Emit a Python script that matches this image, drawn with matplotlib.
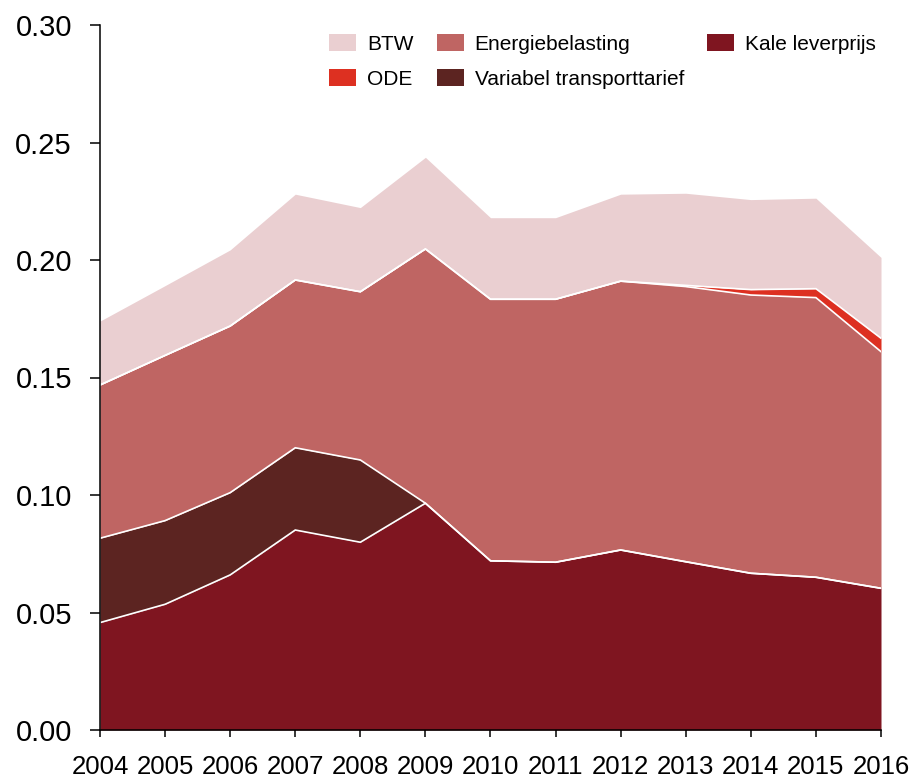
import numpy as np
import matplotlib
matplotlib.use("Agg")
import matplotlib.pyplot as plt
from matplotlib.patches import Patch

years = [2004, 2005, 2006, 2007, 2008, 2009, 2010, 2011, 2012, 2013, 2014, 2015, 2016]
kale_leverprijs = [0.0457, 0.0535, 0.0660, 0.0851, 0.0799, 0.0965, 0.0720, 0.0714, 0.0766, 0.0716, 0.0667, 0.0650, 0.0603]
variabel_transport = [0.0359, 0.0356, 0.0350, 0.0350, 0.0350, 0, 0, 0, 0, 0, 0, 0, 0]
energiebelasting = [0.0652, 0.0703, 0.0709, 0.0714, 0.0716, 0.1082, 0.1113, 0.1119, 0.1144, 0.1171, 0.1184, 0.1190, 0.1007]
ode = [0, 0, 0, 0, 0, 0, 0, 0, 0, 0.0005, 0.0023, 0.0038, 0.0057]
btw = [0.0272, 0.0297, 0.0324, 0.0365, 0.0358, 0.0390, 0.0347, 0.0347, 0.0370, 0.0392, 0.0383, 0.0385, 0.0344]

series = [kale_leverprijs, variabel_transport, energiebelasting, ode, btw]
names = ["Kale leverprijs", "Variabel transporttarief", "Energiebelasting", "ODE", "BTW"]
colors = ["#7f1520", "#5c2421", "#bf6563", "#dd3021", "#eacfd1"]

plt.rcParams['font.family'] = ['Liberation Sans', 'DejaVu Sans']

fig = plt.figure(figsize=(9.12, 7.81), dpi=100)
ax = fig.add_axes([100/912, 51/781, 781/912, 705/781])

x = np.array(years)
cum = np.zeros(len(years))
tops = []
for vals, col in zip(series, colors):
    v = np.array(vals)
    ax.fill_between(x, cum, cum + v, color=col, linewidth=0, zorder=1)
    cum = cum + v
    tops.append(cum.copy())

for t in tops[:-1]:
    ax.plot(x, t, color="white", linewidth=1.2, zorder=2, solid_joinstyle='miter')

ax.set_xlim(2004, 2016)
ax.set_ylim(0, 0.30)
ax.set_xticks(years)
ax.set_xticklabels([str(y) for y in years])
ax.set_yticks([0, 0.05, 0.10, 0.15, 0.20, 0.25, 0.30])
ax.set_yticklabels(["0.00", "0.05", "0.10", "0.15", "0.20", "0.25", "0.30"])

for s in ["top", "right"]:
    ax.spines[s].set_visible(False)
for s in ["left", "bottom"]:
    ax.spines[s].set_linewidth(1.1)
    ax.spines[s].set_color("black")

ax.tick_params(axis='y', direction='out', length=7.2, width=1.1, pad=13, labelsize=21)
ax.tick_params(axis='x', direction='out', length=5, width=1.1, pad=13, labelsize=18.5)

handles = [Patch(facecolor=colors[i], edgecolor='none') for i in [4, 3, 2, 1, 0]]
labels = [names[i] for i in [4, 3, 2, 1, 0]]
leg = fig.legend(handles, labels, ncol=3, loc='upper left',
                 bbox_to_anchor=(329/912, 1 - 34/781), frameon=False,
                 fontsize=15, handlelength=1.3, handleheight=0.9,
                 handletextpad=0.53, columnspacing=1.1, labelspacing=0.72,
                 borderpad=0, borderaxespad=0)

fig.savefig("out.png", dpi=100)
